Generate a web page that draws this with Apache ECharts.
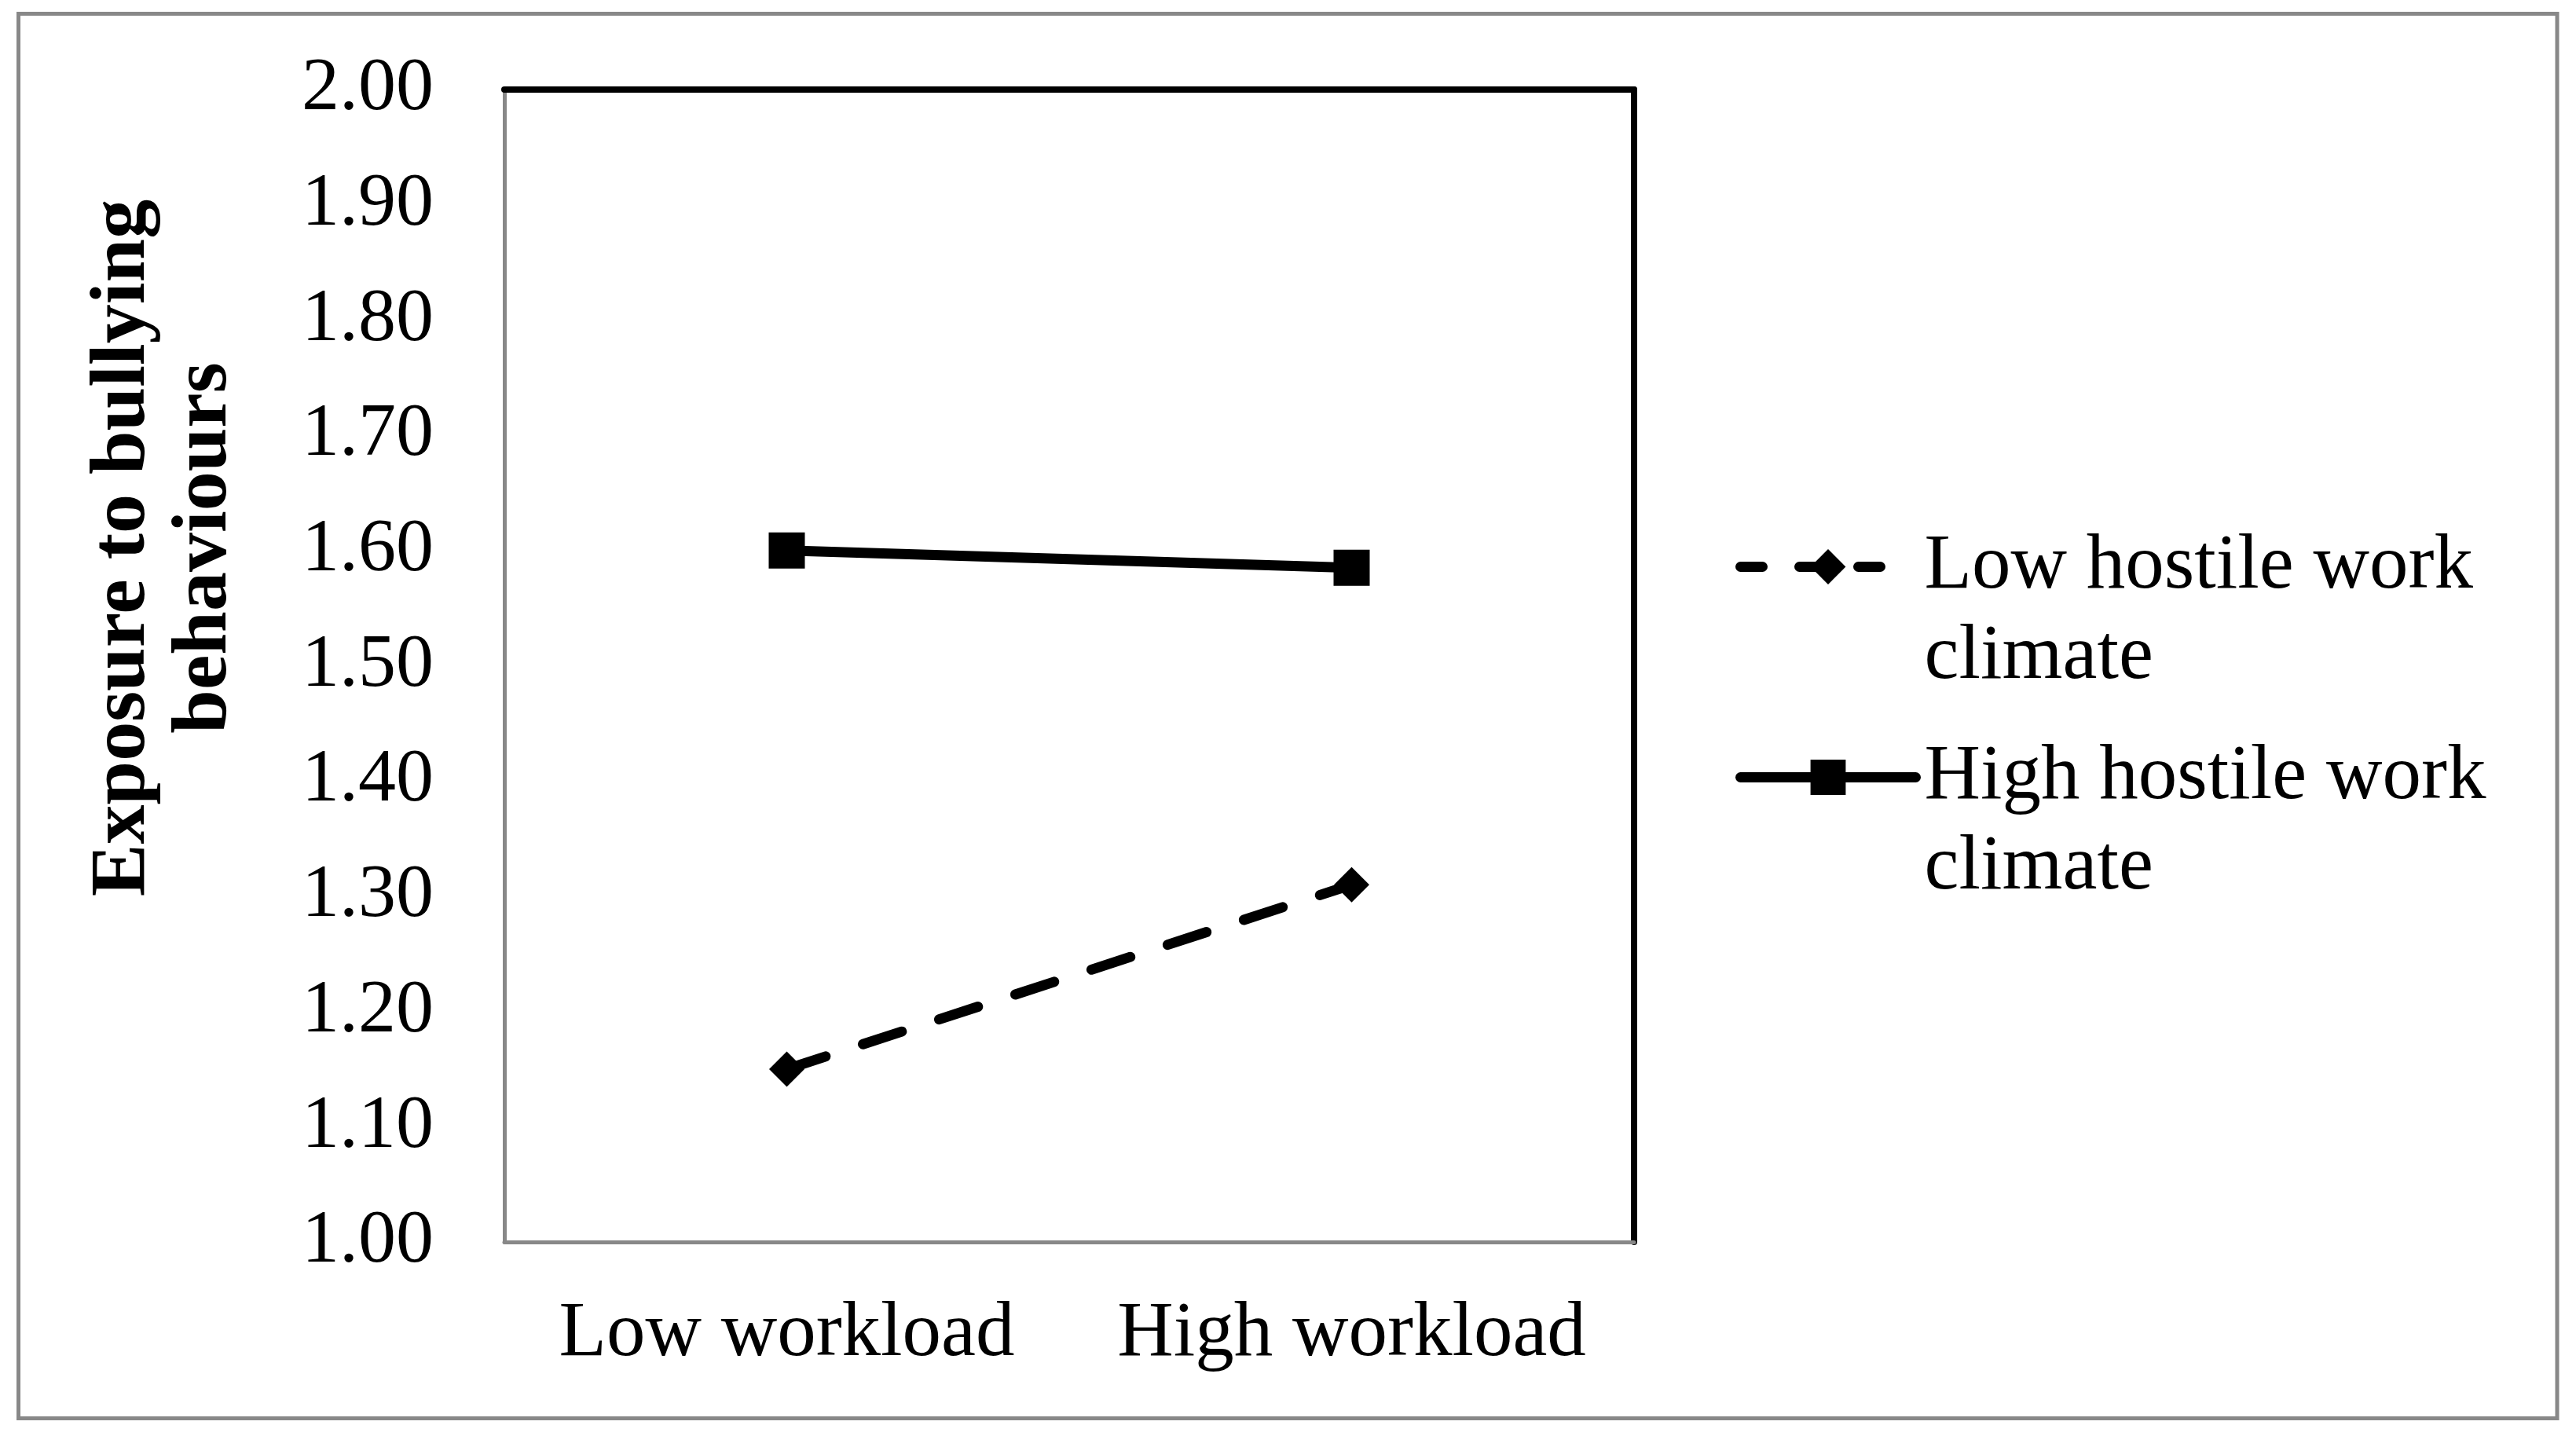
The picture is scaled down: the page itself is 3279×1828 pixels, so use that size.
<!DOCTYPE html>
<html>
<head>
<meta charset="utf-8">
<script src="https://cdn.jsdelivr.net/npm/echarts@6/dist/echarts.min.js"></script>
<style>
html,body{margin:0;padding:0;background:#fff;}
#chart{width:3279px;height:1828px;}
</style>
</head>
<body>
<div id="chart"></div>
<script>
const categories = ['Low workload', 'High workload'];
const seriesNames = ['Low hostile work climate', 'High hostile work climate'];
const legendLabels = ['Low hostile work\nclimate', 'High hostile work\nclimate'];
const lowHostile = [1.15, 1.31];
const highHostile = [1.60, 1.585];
const yTicks = { min: 1.0, max: 2.0, interval: 0.1 };
const yTitle = 'Exposure to bullying\nbehaviours';

const FONT = "'Liberation Serif', 'Times New Roman', serif";
const chart = echarts.init(document.getElementById('chart'), null, { renderer: 'canvas' });

const legendMap = {};
seriesNames.forEach((n, i) => { legendMap[n] = legendLabels[i]; });

chart.setOption({
  backgroundColor: '#fff',
  animation: false,
  graphic: [{
    type: 'rect',
    shape: { x: 23.5, y: 17.5, width: 3231.5, height: 1788 },
    style: { fill: 'none', stroke: '#888888', lineWidth: 5 },
    z: -10
  }],
  grid: { left: 642, top: 114, right: 1199, bottom: 247, containLabel: false },
  legend: {
    orient: 'vertical',
    left: 2209,
    top: 549,
    padding: 0,
    itemWidth: 223,
    itemHeight: 56,
    itemGap: -77,
    data: [
      { name: seriesNames[0], lineStyle: { width: 13, type: [28, 47], cap: 'round', color: '#000' } },
      { name: seriesNames[1], lineStyle: { width: 13, type: 'solid', cap: 'round', color: '#000' } }
    ],
    formatter: (n) => '\n' + legendMap[n],
    textStyle: {
      fontFamily: FONT, fontSize: 99, color: '#000', lineHeight: 115,
      padding: [0, 0, 0, 6]
    }
  },
  xAxis: [{
    type: 'category',
    data: categories,
    boundaryGap: true,
    axisLine: { show: true, lineStyle: { color: '#888888', width: 5 } },
    axisTick: { show: false },
    axisLabel: { fontFamily: FONT, fontSize: 99, color: '#000', margin: 68, interval: 0, hideOverlap: false },
    splitLine: { show: false }
  }, {
    type: 'category',
    data: categories,
    position: 'top',
    boundaryGap: true,
    axisLine: { show: true, lineStyle: { color: '#000', width: 8 } },
    axisTick: { show: false },
    axisLabel: { show: false },
    splitLine: { show: false }
  }],
  yAxis: [{
    type: 'value',
    min: yTicks.min, max: yTicks.max, interval: yTicks.interval,
    axisLine: { show: true, lineStyle: { color: '#888888', width: 5 } },
    axisTick: { show: false },
    splitLine: { show: false },
    axisLabel: {
      fontFamily: FONT, fontSize: 96, color: '#000', margin: 90,
      formatter: (v) => v.toFixed(2)
    },
    name: yTitle,
    nameLocation: 'middle',
    nameRotate: 90,
    nameGap: 329,
    nameTextStyle: {
      fontFamily: FONT, fontSize: 100, fontWeight: 'bold', color: '#000',
      lineHeight: 104, padding: [0, 0, 0, 300]
    }
  }, {
    type: 'value',
    position: 'right',
    min: yTicks.min, max: yTicks.max, interval: yTicks.interval,
    axisLine: { show: true, lineStyle: { color: '#000', width: 8 } },
    axisTick: { show: false },
    splitLine: { show: false },
    axisLabel: { show: false }
  }],
  series: [{
    name: seriesNames[0],
    type: 'line',
    data: lowHostile,
    symbol: 'diamond',
    symbolSize: 45,
    itemStyle: { color: '#000' },
    lineStyle: { color: '#000', width: 13, type: [52, 50], cap: 'round', join: 'round' },
    z: 3
  }, {
    name: seriesNames[1],
    type: 'line',
    data: highHostile,
    symbol: 'rect',
    symbolSize: 46,
    itemStyle: { color: '#000' },
    lineStyle: { color: '#000', width: 13, type: 'solid', cap: 'round' },
    z: 3
  }]
});
</script>
</body>
</html>
